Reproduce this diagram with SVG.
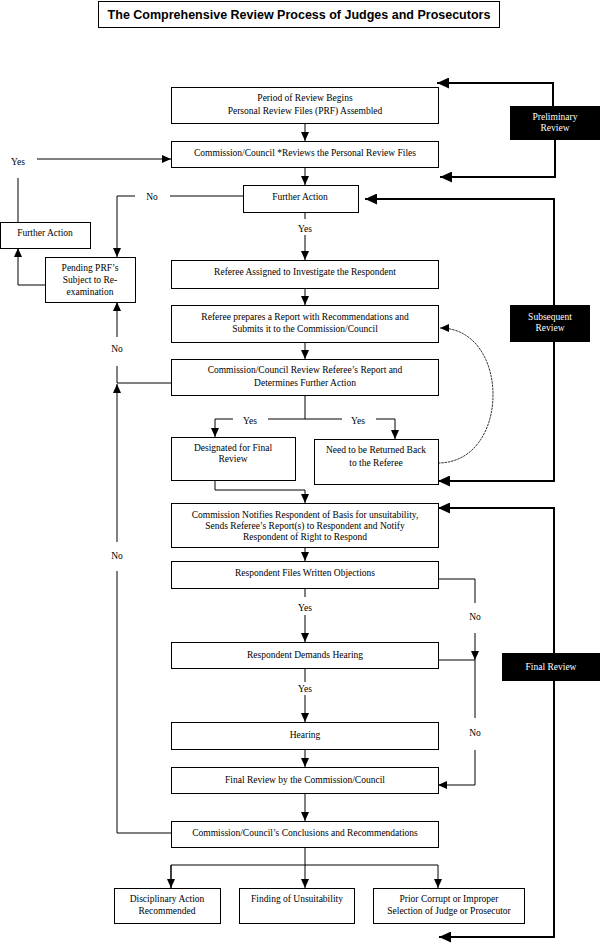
<svg xmlns="http://www.w3.org/2000/svg" width="600" height="944" viewBox="0 0 600 944">
<style>
.b{fill:#fff;stroke:#000;stroke-width:1}
.k{fill:#000}
.t{font-family:"Liberation Serif","Times New Roman",serif;font-size:9.5px;text-anchor:middle;fill:#000}
.w{font-family:"Liberation Serif","Times New Roman",serif;font-size:9.5px;text-anchor:middle;fill:#fff}
.ti{font-family:"Liberation Sans",Arial,sans-serif;font-size:12.5px;font-weight:bold;text-anchor:middle;fill:#000}
.l{fill:none;stroke:#000;stroke-width:1}
.L{fill:none;stroke:#000;stroke-width:2}
.c{fill:none;stroke:#000;stroke-width:0.8;stroke-dasharray:2.5 0.8}
</style>
<defs>
<marker id="a" markerUnits="userSpaceOnUse" markerWidth="10" markerHeight="8" refX="9" refY="4" orient="auto"><path d="M0,0 L9,4 L0,8 z" fill="#000"/></marker>
<marker id="A" markerUnits="userSpaceOnUse" markerWidth="13" markerHeight="11" refX="12" refY="5.5" orient="auto"><path d="M0,0 L12,5.5 L0,11 z" fill="#000"/></marker>
</defs>
<rect width="600" height="944" fill="#fff"/>
<g id="title"><rect class="b" x="98.5" y="1.5" width="401" height="26"/><text class="ti" x="299" y="19">The Comprehensive Review Process of Judges and Prosecutors</text></g>

<g id="connectors">
<line class="l" x1="305" y1="123" x2="305" y2="141" marker-end="url(#a)"/>
<line class="l" x1="305" y1="167" x2="305" y2="185" marker-end="url(#a)"/>
<line class="l" x1="305" y1="212" x2="305" y2="219"/>
<line class="l" x1="305" y1="235" x2="305" y2="260" marker-end="url(#a)"/>
<line class="l" x1="305" y1="288" x2="305" y2="305" marker-end="url(#a)"/>
<line class="l" x1="305" y1="342" x2="305" y2="359" marker-end="url(#a)"/>
<line class="l" x1="305" y1="395" x2="305" y2="419"/>
<polyline class="l" points="233,419 215,419 215,437" marker-end="url(#a)"/>
<line class="l" x1="268" y1="419" x2="342" y2="419"/>
<polyline class="l" points="376,419 395,419 395,439" marker-end="url(#a)"/>
<polyline class="l" points="215,480 215,490 305,490 305,503" marker-end="url(#a)"/>
<line class="l" x1="305" y1="547" x2="305" y2="561" marker-end="url(#a)"/>
<line class="l" x1="305" y1="588" x2="305" y2="597"/>
<line class="l" x1="305" y1="615" x2="305" y2="642" marker-end="url(#a)"/>
<polyline class="l" points="438,579 475,579 475,603"/>
<line class="l" x1="475" y1="633" x2="475" y2="660" marker-end="url(#a)"/>
<polyline class="l" points="438,660 475,660 475,718"/>
<polyline class="l" points="475,750 475,785 438,785" marker-end="url(#a)"/>
<line class="l" x1="305" y1="668" x2="305" y2="682"/>
<line class="l" x1="305" y1="695" x2="305" y2="722" marker-end="url(#a)"/>
<line class="l" x1="305" y1="749" x2="305" y2="767" marker-end="url(#a)"/>
<line class="l" x1="305" y1="793" x2="305" y2="821" marker-end="url(#a)"/>
<line class="l" x1="305" y1="847" x2="305" y2="888" marker-end="url(#a)"/>
<polyline class="l" points="171,888 171,865 438,865 438,888" marker-end="url(#a)"/>
<line class="l" x1="171" y1="865" x2="171" y2="888" marker-end="url(#a)"/>
<polyline class="l" points="171,833 117,833 117,571"/>
<line class="l" x1="117" y1="542" x2="117" y2="384" marker-end="url(#a)"/>
<polyline class="l" points="171,383 117,383 117,366"/>
<line class="l" x1="117" y1="337" x2="117" y2="302" marker-end="url(#a)"/>
<line class="l" x1="243" y1="196" x2="170" y2="196"/>
<polyline class="l" points="135,196 117,196 117,257" marker-end="url(#a)"/>
<polyline class="l" points="45,285 18,285 18,248" marker-end="url(#a)"/>
<line class="l" x1="18" y1="222" x2="18" y2="178"/>
<line class="l" x1="37" y1="159" x2="171" y2="159" marker-end="url(#a)"/>
<path class="c" d="M438,463 C511,463 511,328 440,328" marker-end="url(#a)"/>
<polyline class="L" points="553,106 553,83 437,83" marker-end="url(#A)"/>
<polyline class="L" points="555,140 555,177 440,177" marker-end="url(#A)"/>
<polyline class="L" points="554,305 554,199 365,199" marker-end="url(#A)"/>
<polyline class="L" points="554,342 554,481 438,481" marker-end="url(#A)"/>
<polyline class="L" points="554,653 554,508 438,508" marker-end="url(#A)"/>
<polyline class="L" points="554,681 554,937 439,937" marker-end="url(#A)"/>
</g>

<g id="labels">
<text class="t" x="18" y="165">Yes</text>
<text class="t" x="152" y="200">No</text>
<text class="t" x="305" y="232">Yes</text>
<text class="t" x="117" y="352">No</text>
<text class="t" x="117" y="559">No</text>
<text class="t" x="250" y="424">Yes</text>
<text class="t" x="358" y="424">Yes</text>
<text class="t" x="305" y="611">Yes</text>
<text class="t" x="475" y="620">No</text>
<text class="t" x="305" y="692">Yes</text>
<text class="t" x="475" y="736">No</text>
</g>

<g id="n1"><rect class="b" x="171.5" y="87.5" width="267" height="36"/><text class="t" x="305" y="101">Period of Review Begins</text><text class="t" x="305" y="114">Personal Review Files (PRF) Assembled</text></g>
<g id="n2"><rect class="b" x="171.5" y="141.5" width="267" height="26"/><text class="t" x="305" y="156">Commission/Council *Reviews the Personal Review Files</text></g>
<g id="n3"><rect class="b" x="243.5" y="185.5" width="115" height="27"/><text class="t" x="300" y="200">Further Action</text></g>
<g id="n4"><rect class="b" x="0.5" y="222.5" width="90" height="26"/><text class="t" x="45" y="236">Further Action</text></g>
<g id="n5"><rect class="b" x="45.5" y="257.5" width="90" height="45"/><text class="t" x="90" y="271">Pending PRF’s</text><text class="t" x="90" y="283">Subject to Re-</text><text class="t" x="90" y="295">examination</text></g>
<g id="n6"><rect class="b" x="171.5" y="260.5" width="267" height="28"/><text class="t" x="305" y="275">Referee  Assigned to Investigate the Respondent</text></g>
<g id="n7"><rect class="b" x="171.5" y="305.5" width="267" height="37"/><text class="t" x="305" y="320">Referee prepares a Report with Recommendations and</text><text class="t" x="305" y="332">Submits it to the  Commission/Council</text></g>
<g id="n8"><rect class="b" x="171.5" y="359.5" width="267" height="36"/><text class="t" x="305" y="373">Commission/Council Review Referee’s Report and</text><text class="t" x="305" y="386">Determines Further Action</text></g>
<g id="n9"><rect class="b" x="171.5" y="437.5" width="124" height="43"/><text class="t" x="233" y="451">Designated for Final</text><text class="t" x="233" y="462">Review</text></g>
<g id="n10"><rect class="b" x="314.5" y="439.5" width="124" height="45"/><text class="t" x="376" y="453">Need to be Returned Back</text><text class="t" x="376" y="466">to the Referee</text></g>
<g id="n11"><rect class="b" x="171.5" y="503.5" width="267" height="44"/><text class="t" x="305" y="518">Commission Notifies Respondent of Basis for unsuitability,</text><text class="t" x="305" y="529">Sends Referee’s Report(s) to Respondent and Notify</text><text class="t" x="305" y="540">Respondent of Right to Respond</text></g>
<g id="n12"><rect class="b" x="171.5" y="561.5" width="267" height="27"/><text class="t" x="305" y="576">Respondent Files Written Objections</text></g>
<g id="n13"><rect class="b" x="171.5" y="642.5" width="267" height="26"/><text class="t" x="305" y="658">Respondent Demands Hearing</text></g>
<g id="n14"><rect class="b" x="171.5" y="722.5" width="267" height="27"/><text class="t" x="305" y="738">Hearing</text></g>
<g id="n15"><rect class="b" x="171.5" y="767.5" width="267" height="26"/><text class="t" x="305" y="783">Final Review by the Commission/Council</text></g>
<g id="n16"><rect class="b" x="171.5" y="821.5" width="267" height="26"/><text class="t" x="305" y="836">Commission/Council’s Conclusions and Recommendations</text></g>
<g id="n17"><rect class="b" x="114.5" y="888.5" width="106" height="35"/><text class="t" x="167" y="902">Disciplinary Action</text><text class="t" x="167" y="914">Recommended</text></g>
<g id="n18"><rect class="b" x="239.5" y="888.5" width="115" height="35"/><text class="t" x="297" y="902">Finding of Unsuitability</text></g>
<g id="n19"><rect class="b" x="373.5" y="888.5" width="151" height="35"/><text class="t" x="449" y="902">Prior Corrupt or Improper</text><text class="t" x="449" y="914">Selection of Judge or Prosecutor</text></g>
<g id="r1"><rect class="k" x="510" y="106" width="90" height="34"/><text class="w" x="555" y="120">Preliminary</text><text class="w" x="555" y="131">Review</text></g>
<g id="r2"><rect class="k" x="510" y="305" width="80" height="37"/><text class="w" x="550" y="320">Subsequent</text><text class="w" x="550" y="331">Review</text></g>
<g id="r3"><rect class="k" x="502" y="653" width="98" height="28"/><text class="w" x="551" y="670">Final Review</text></g>
</svg>
